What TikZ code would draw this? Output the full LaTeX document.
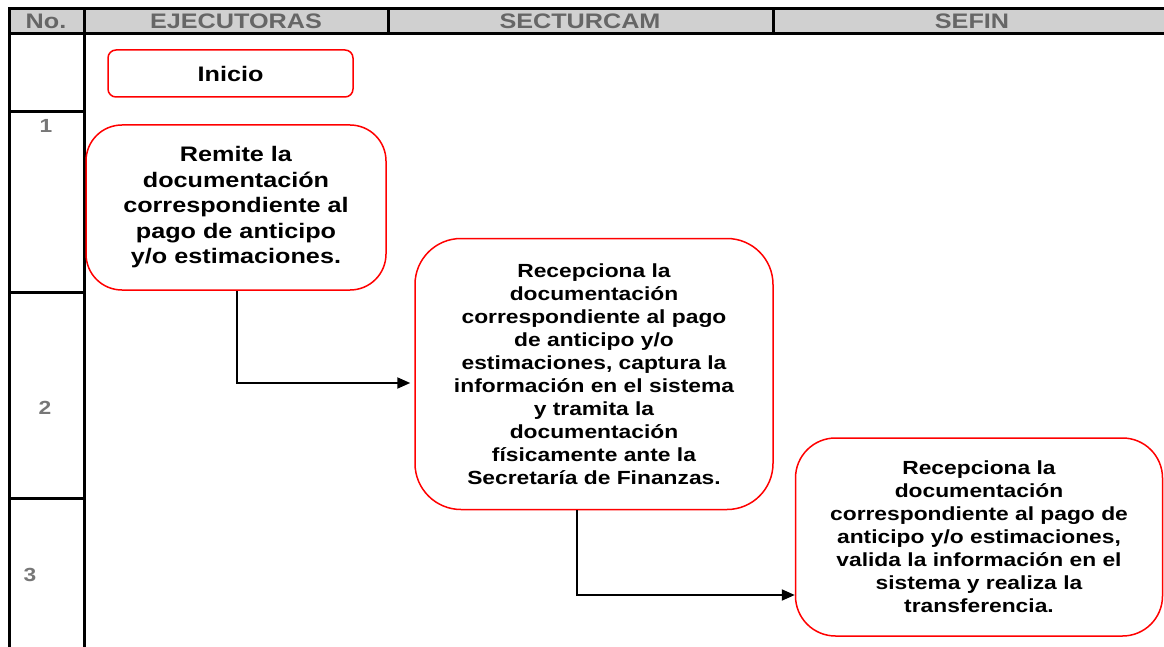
\documentclass[tikz,border=0pt]{standalone}
\usepackage{fontspec}
\setmainfont{Liberation Sans}[FakeStretch=1.2]
\usetikzlibrary{arrows.meta}
\definecolor{hdrfill}{HTML}{D0D0D0}
\definecolor{hdrtext}{HTML}{666666}
\definecolor{numtext}{HTML}{777777}
\tikzset{
  grid/.style={line width=3pt, black},
  hdr/.style={font=\fontsize{21}{24}\selectfont\bfseries, text=hdrtext, inner sep=0pt},
  num/.style={font=\fontsize{19}{22}\selectfont\bfseries, text=numtext, inner sep=0pt},
  procbox/.style={draw=red, line width=1.5pt, fill=white, align=center, inner sep=0pt},
  bigtxt/.style={font=\fontsize{21}{25.5}\selectfont\bfseries},
  smalltxt/.style={font=\fontsize{19}{23}\selectfont\bfseries},
  arr/.style={line width=2pt, -{Triangle[length=13pt,width=11pt]}},
}
\begin{document}
\begin{tikzpicture}[x=1pt,y=-1pt]
\useasboundingbox (0,0) rectangle (1164,647);
% header
\fill[hdrfill] (9,9) rectangle (1164,34);
\draw[grid] (8,9) -- (1164,9);
\draw[grid] (8,34) -- (1164,34);
\draw[grid] (84,9) -- (84,34);
\draw[grid] (388,9) -- (388,34);
\draw[grid] (773,9) -- (773,34);
\draw[grid] (9,9) -- (9,647);
\draw[grid] (84,34) -- (84,647);
\draw[grid] (9,112) -- (84,112);
\draw[grid] (9,292) -- (84,292);
\draw[grid] (9,498) -- (84,498);
\node[hdr] (hno) at (46,21.5) {No.};
\node[hdr] (hej) at (236,21.5) {EJECUTORAS};
\node[hdr] (hse) at (580,21.5) {SECTURCAM};
\node[hdr] (hsf) at (972,21.5) {SEFIN};
% row numbers
\node[num] (n1) at (46,126) {1};
\node[num] (n2) at (45,408) {2};
\node[num] (n3) at (30,575) {3};
% boxes
\node[procbox, bigtxt, minimum width=245pt, minimum height=47pt, rounded corners=8pt] (ini) at (230.5,73.5) {Inicio};
\node[procbox, bigtxt, minimum width=300pt, minimum height=165pt, rounded corners=36pt] (b1) at (236,207.5)
 {Remite la\\documentación\\correspondiente al\\pago de anticipo\\y/o estimaciones.};
\node[procbox, smalltxt, minimum width=358pt, minimum height=271pt, rounded corners=46pt] (b2) at (594,374)
 {Recepciona la\\documentación\\correspondiente al pago\\de anticipo y/o\\estimaciones, captura la\\información en el sistema\\y tramita la\\documentación\\físicamente ante la\\Secretaría de Finanzas.};
\node[procbox, smalltxt, minimum width=367pt, minimum height=198pt, rounded corners=40pt] (b3) at (979,537)
 {Recepciona la\\documentación\\correspondiente al pago de\\anticipo y/o estimaciones,\\valida la información en el\\sistema y realiza la\\transferencia.};
% connectors
\draw[arr, shorten >=4pt] ([xshift=1pt]b1.south) |- ([yshift=-9pt]b2.west);
\draw[arr] ([xshift=-17pt]b2.south) |- ([yshift=-58pt]b3.west);
\end{tikzpicture}
\end{document}
